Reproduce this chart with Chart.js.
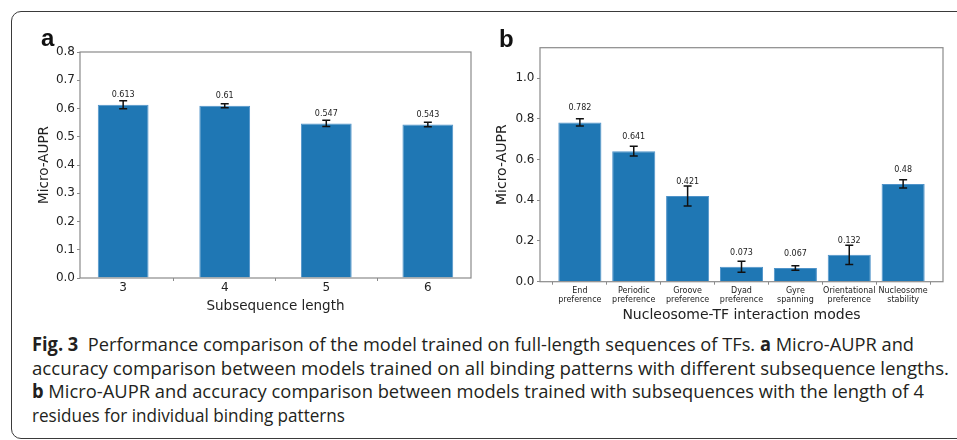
<!DOCTYPE html>
<html>
<head>
<meta charset="utf-8">
<script src="https://cdn.jsdelivr.net/npm/chart.js@4.4.1/dist/chart.umd.min.js"></script>
<style>
  body { margin: 0; background: #fff; width: 957px; height: 440px; overflow: hidden; position: relative; }
  .frame { position: absolute; left: 11px; top: 11px; width: 1000px; height: 426px; border: 1.5px solid #3a3a3a; border-radius: 10px; }
  #chartA { position: absolute; left: 0; top: 0; }
  #chartB { position: absolute; left: 480px; top: 0; }
  .panel { position: absolute; font-family: 'Liberation Sans', Arial, sans-serif; font-weight: bold; font-size: 24px; line-height: 24px; color: #111; }
  .cap { position: absolute; left: 32px; font-family: 'Open Sans', sans-serif; font-size: 19px; line-height: 18px; color: #231f20; white-space: nowrap; transform-origin: 0 0; }
  .cap b { font-weight: 700; }
</style>
</head>
<body>
<div class="frame"></div>
<canvas id="chartA" width="480" height="330"></canvas>
<canvas id="chartB" width="477" height="330"></canvas>
<div class="panel" style="left:41px; top:26px;">a</div>
<div class="panel" style="left:499px; top:27px;">b</div>

<div class="cap" data-w="882" style="top:335px;"><b>Fig. 3</b>&nbsp; Performance comparison of the model trained on full-length sequences of TFs. <b>a</b> Micro-AUPR and</div>
<div class="cap" data-w="917" style="top:358.5px;">accuracy comparison between models trained on all binding patterns with different subsequence lengths.</div>
<div class="cap" data-w="892" style="top:382px;"><b>b</b> Micro-AUPR and accuracy comparison between models trained with subsequences with the length of 4</div>
<div class="cap" data-w="313" style="top:405.5px;">residues for individual binding patterns</div>

<script>
// panel a: subsequence length
const subLengths = ['3', '4', '5', '6'];
const auprA = [0.613, 0.61, 0.547, 0.543];
const errA = [0.014, 0.007, 0.011, 0.008];
const yTicksA = [0, 0.1, 0.2, 0.3, 0.4, 0.5, 0.6, 0.7, 0.8];

// panel b: interaction modes
const modes = [
  ['End', 'preference'],
  ['Periodic', 'preference'],
  ['Groove', 'preference'],
  ['Dyad', 'preference'],
  ['Gyre', 'spanning'],
  ['Orientational', 'preference'],
  ['Nucleosome', 'stability']
];
const auprB = [0.782, 0.641, 0.421, 0.073, 0.067, 0.132, 0.48];
const errB = [0.018, 0.024, 0.049, 0.027, 0.011, 0.047, 0.020];
const yTicksB = [0, 0.2, 0.4, 0.6, 0.8, 1.0];

Chart.defaults.font.family = "'DejaVu Sans'";
Chart.defaults.color = '#222';

const spine = '#8a8a8a';

// error bars, value labels and the full box around the plot
function barExtras(values, errors, labelOffset) {
  return {
    id: 'barExtras',
    afterDatasetsDraw(chart) {
      const ctx = chart.ctx;
      const y = chart.scales.y;
      const meta = chart.getDatasetMeta(0);
      ctx.save();
      ctx.strokeStyle = '#111';
      ctx.lineWidth = 1.5;
      ctx.fillStyle = '#222';
      ctx.font = "8px 'DejaVu Sans'";
      ctx.textAlign = 'center';
      ctx.textBaseline = 'middle';
      meta.data.forEach((bar, i) => {
        const top = y.getPixelForValue(values[i] + errors[i]);
        const bot = y.getPixelForValue(values[i] - errors[i]);
        ctx.beginPath();
        ctx.moveTo(bar.x, top); ctx.lineTo(bar.x, bot);
        ctx.moveTo(bar.x - 4, top); ctx.lineTo(bar.x + 4, top);
        ctx.moveTo(bar.x - 4, bot); ctx.lineTo(bar.x + 4, bot);
        ctx.stroke();
        ctx.fillText(String(values[i]), bar.x, y.getPixelForValue(values[i] + labelOffset));
      });
      const a = chart.chartArea;
      ctx.strokeStyle = spine;
      ctx.lineWidth = 1.2;
      ctx.strokeRect(a.left, a.top, a.right - a.left, a.bottom - a.top);
      ctx.restore();
    }
  };
}

new Chart(document.getElementById('chartA'), {
  type: 'bar',
  data: {
    datasets: [{
      data: auprA.map((v, i) => ({ x: i, y: v })),
      backgroundColor: '#1f77b4',
      borderColor: '#4f93c9',
      borderWidth: 1,
      categoryPercentage: 1,
      barPercentage: 0.5
    }]
  },
  options: {
    responsive: false,
    animation: false,
    layout: { padding: { top: 52, right: 9, left: 0, bottom: 0 } },
    plugins: { legend: { display: false }, tooltip: { enabled: false } },
    scales: {
      x: {
        type: 'linear',
        offset: false,
        min: -0.425,
        max: 3.425,
        afterBuildTicks: (s) => { s.ticks = subLengths.map((_, i) => ({ value: i })); },
        afterFit: (s) => { s.height = 52; },
        ticks: { callback: (v) => subLengths[v], font: { size: 12 }, padding: 0, maxRotation: 0, autoSkip: false },
        grid: { drawOnChartArea: false, tickLength: 3, color: spine },
        border: { display: false },
        title: { display: true, text: 'Subsequence length', font: { size: 13.5 }, padding: { top: 0, bottom: 15 } }
      },
      y: {
        min: 0,
        max: 0.8,
        afterBuildTicks: (s) => { s.ticks = yTicksA.map(v => ({ value: v })); },
        afterFit: (s) => { s.width = 80; },
        ticks: { callback: (v) => v.toFixed(1), font: { size: 12 }, padding: 2 },
        grid: { drawOnChartArea: false, tickLength: 3, color: spine },
        border: { display: false },
        title: { display: true, text: 'Micro-AUPR', font: { size: 13.5 }, padding: { top: 36, bottom: 0 } }
      }
    }
  },
  plugins: [barExtras(auprA, errA, 0.034)]
});

new Chart(document.getElementById('chartB'), {
  type: 'bar',
  data: {
    datasets: [{
      data: auprB.map((v, i) => ({ x: i, y: v })),
      backgroundColor: '#1f77b4',
      borderColor: '#4f93c9',
      borderWidth: 1,
      categoryPercentage: 1,
      barPercentage: 0.8
    }]
  },
  options: {
    responsive: false,
    animation: false,
    layout: { padding: { top: 47.7, right: 14, left: 0, bottom: 0 } },
    plugins: { legend: { display: false }, tooltip: { enabled: false } },
    scales: {
      x: {
        type: 'linear',
        offset: false,
        min: -0.74,
        max: 6.74,
        afterBuildTicks: (s) => { s.ticks = modes.map((_, i) => ({ value: i })); },
        afterFit: (s) => { s.height = 48.3; },
        ticks: { callback: (v) => modes[v], font: { size: 8, lineHeight: 1.125 }, padding: 1.5, maxRotation: 0, autoSkip: false },
        grid: { drawOnChartArea: false, tickLength: 3, color: spine },
        border: { display: false },
        title: { display: true, text: 'Nucleosome-TF interaction modes', font: { size: 14 }, padding: { top: 0, bottom: 6 } }
      },
      y: {
        min: 0,
        max: 1.149,
        afterBuildTicks: (s) => { s.ticks = yTicksB.map(v => ({ value: v })); },
        afterFit: (s) => { s.width = 60; },
        ticks: { callback: (v) => v.toFixed(1), font: { size: 12 }, padding: 2.5 },
        grid: { drawOnChartArea: false, tickLength: 3, color: spine },
        border: { display: false },
        title: { display: true, text: 'Micro-AUPR', font: { size: 14 }, padding: { top: 13.6, bottom: 0 } }
      }
    }
  },
  plugins: [barExtras(auprB, errB, 0.07)]
});

// squeeze each caption line to the width it has in the figure
document.querySelectorAll('.cap').forEach(el => {
  const w = el.getBoundingClientRect().width;
  el.style.transform = 'scaleX(' + (el.dataset.w / w) + ')';
});
</script>
</body>
</html>
